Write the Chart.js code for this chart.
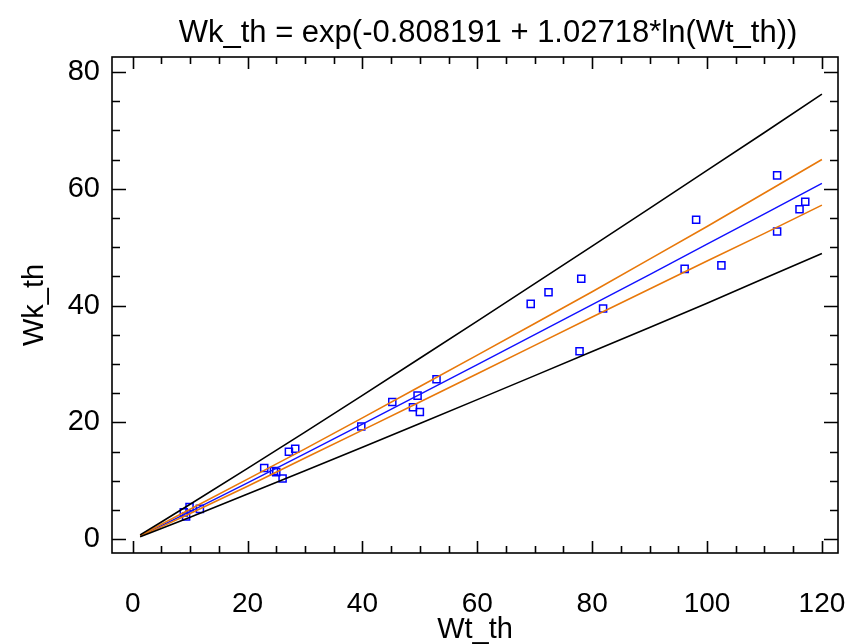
<!DOCTYPE html>
<html>
<head>
<meta charset="utf-8">
<script src="https://cdn.jsdelivr.net/npm/chart.js@4"></script>
<style>
  body { margin: 0; background: #fff; }
  #wrap { width: 849px; height: 644px; }
</style>
</head>
<body>
<div id="wrap"><canvas id="fit-chart" width="849" height="644"></canvas></div>
<script>
const titleText = "Wk_th = exp(-0.808191 + 1.02718*ln(Wt_th))";
const xTicks = [0, 20, 40, 60, 80, 100, 120];
const yTicks = [0, 20, 40, 60, 80];

const wtObs = [9.9, 9.3, 8.9, 11.7, 22.9, 24.6, 25.0, 26.1, 27.2, 28.3,
  39.8, 45.2, 48.8, 49.6, 50.0, 52.9, 69.3, 72.4, 77.8, 78.1, 81.9,
  96.1, 98.1, 102.5, 112.2, 112.2, 116.1, 117.1];
const wkObs = [5.5, 3.9, 4.6, 5.2, 12.2, 11.7, 11.5, 10.4, 15.0, 15.5,
  19.3, 23.5, 22.6, 24.6, 21.8, 27.4, 40.3, 42.3, 32.2, 44.6, 39.5,
  46.3, 54.7, 46.9, 62.3, 52.7, 56.5, 57.8];

// fitted curve and limits, sampled along Wt_th
const wtLine = [1.3, 5, 10, 20, 30, 40, 50, 60, 70, 80, 90, 100, 110, 120];
const fitLine = [0.58, 2.33, 4.75, 9.67, 14.67, 19.71, 24.79, 29.89, 35.02, 40.16, 45.33, 50.52, 55.71, 60.93];
const confUpper = [0.66, 2.56, 5.13, 10.30, 15.48, 20.79, 26.15, 31.53, 36.95, 42.37, 47.96, 53.55, 59.28, 65.01];
const confLower = [0.51, 2.12, 4.42, 9.09, 13.91, 18.69, 23.50, 28.34, 33.20, 38.07, 42.84, 47.64, 52.37, 57.21];
const predUpper = [0.75, 2.96, 5.99, 12.14, 18.34, 24.64, 30.99, 37.36, 43.78, 50.20, 56.66, 63.15, 69.64, 76.22];
const predLower = [0.45, 1.84, 3.78, 7.74, 11.74, 15.77, 19.83, 23.91, 28.02, 32.13, 36.26, 40.42, 44.68, 48.93];

const FONT = "'Liberation Sans', Arial, sans-serif";

function toPoints(xs, ys) {
  return xs.map((x, i) => ({ x: x, y: ys[i] }));
}

function lineSet(ys, color, width) {
  return {
    data: toPoints(wtLine, ys),
    showLine: true,
    borderColor: color,
    borderWidth: width,
    pointRadius: 0,
    tension: 0,
  };
}

function noPadding(scale) {
  scale.paddingLeft = 0;
  scale.paddingRight = 0;
  scale.paddingTop = 0;
  scale.paddingBottom = 0;
}

const frameAndTicks = {
  id: "frameAndTicks",
  afterDraw(chart) {
    const ctx = chart.ctx;
    const area = chart.chartArea;
    const xs = chart.scales.x;
    const ys = chart.scales.y;
    ctx.save();
    ctx.strokeStyle = "#000";
    ctx.lineWidth = 1.6;
    ctx.strokeRect(area.left, area.top, area.right - area.left, area.bottom - area.top);

    ctx.beginPath();
    for (let v = 0; v <= 120; v += 5) {
      const px = Math.round(xs.getPixelForValue(v)) + 0.5;
      const len = v % 20 === 0 ? 12 : 7;
      ctx.moveTo(px, area.bottom);
      ctx.lineTo(px, area.bottom - len);
      ctx.moveTo(px, area.top);
      ctx.lineTo(px, area.top + len);
    }
    for (let v = 0; v <= 80; v += 5) {
      const py = Math.round(ys.getPixelForValue(v)) + 0.5;
      const len = v % 20 === 0 ? 14 : 8;
      ctx.moveTo(area.left, py);
      ctx.lineTo(area.left + len, py);
      ctx.moveTo(area.right, py);
      ctx.lineTo(area.right - len, py);
    }
    ctx.stroke();

    ctx.fillStyle = "#000";
    ctx.font = "31px " + FONT;
    ctx.textAlign = "center";
    ctx.textBaseline = "middle";
    ctx.fillText(titleText, 488, 33);
    ctx.restore();
  },
};

new Chart(document.getElementById("fit-chart"), {
  type: "scatter",
  data: {
    datasets: [
      lineSet(predUpper, "#000000", 1.6),
      lineSet(predLower, "#000000", 1.6),
      lineSet(confUpper, "#e8780a", 1.6),
      lineSet(confLower, "#e8780a", 1.6),
      lineSet(fitLine, "#1010ff", 1.4),
      {
        data: toPoints(wtObs, wkObs),
        pointStyle: "rect",
        pointRadius: 5,
        borderColor: "#0000ff",
        backgroundColor: "rgba(0,0,0,0)",
        borderWidth: 1.5,
      },
    ],
  },
  plugins: [frameAndTicks],
  options: {
    responsive: false,
    animation: false,
    layout: { padding: { top: 57, right: 11, left: 0, bottom: 0 } },
    plugins: {
      legend: { display: false },
      tooltip: { enabled: false },
    },
    scales: {
      x: {
        type: "linear",
        min: -3.6,
        max: 122.8,
        afterBuildTicks: (scale) => { scale.ticks = xTicks.map((v) => ({ value: v })); },
        afterFit: (scale) => { scale.height = 91; noPadding(scale); },
        grid: { display: false, drawTicks: false },
        border: { display: false },
        ticks: { color: "#000", font: { family: FONT, size: 28, lineHeight: 1.2 }, padding: 34, maxRotation: 0, autoSkip: false },
        title: { display: true, text: "Wt_th", color: "#000", font: { family: FONT, size: 29, lineHeight: 0.95 }, padding: { top: 0, bottom: 0 } },
      },
      y: {
        type: "linear",
        min: -2.35,
        max: 82.57,
        afterBuildTicks: (scale) => { scale.ticks = yTicks.map((v) => ({ value: v })); },
        afterFit: (scale) => { scale.width = 112; noPadding(scale); },
        grid: { display: false, drawTicks: false },
        border: { display: false },
        ticks: { color: "#000", font: { family: FONT, size: 29 }, padding: 12, autoSkip: false },
        title: { display: true, text: "Wk_th", color: "#000", font: { family: FONT, size: 29 }, padding: { top: 18, bottom: 0 } },
      },
    },
  },
});
</script>
</body>
</html>
